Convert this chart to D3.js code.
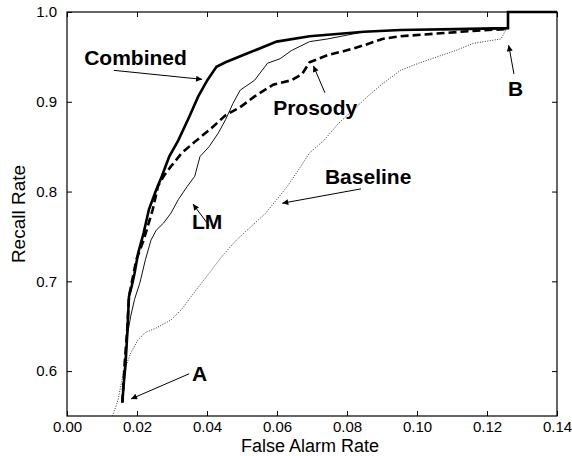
<!DOCTYPE html>
<html>
<head>
<meta charset="utf-8">
<script src="https://cdn.jsdelivr.net/npm/d3@7"></script>
<style>
  body { margin: 0; background: #fff; }
  text { font-family: "Liberation Sans", Arial, sans-serif; }
</style>
</head>
<body>
<div id="chart"></div>
<script>
// chart size
const width = 572;
const height = 456;
const margin = {top: 12, right: 15, bottom: 40, left: 67};

// tick labels
const xTicks = [0.00, 0.02, 0.04, 0.06, 0.08, 0.10, 0.12, 0.14];
const yTicks = [0.6, 0.7, 0.8, 0.9, 1.0];

// curves: [false alarm rate, recall rate]
const combined = [
  [0.0158, 0.565], [0.0163, 0.590], [0.0167, 0.606], [0.0172, 0.640], [0.0177, 0.683],
  [0.0185, 0.695], [0.0193, 0.709], [0.0203, 0.731], [0.0219, 0.754], [0.0234, 0.780],
  [0.0255, 0.802], [0.0271, 0.817], [0.0292, 0.839], [0.0318, 0.857], [0.0349, 0.883],
  [0.0375, 0.906], [0.0401, 0.924], [0.0427, 0.939], [0.0453, 0.944], [0.0516, 0.954],
  [0.0599, 0.967], [0.0693, 0.973], [0.0849, 0.978], [0.0953, 0.980], [0.111, 0.981],
  [0.126, 0.982], [0.126, 1.0], [0.14, 1.0]
];
const lm = [
  [0.0158, 0.565], [0.0165, 0.610], [0.0172, 0.639], [0.0182, 0.661], [0.0193, 0.680],
  [0.0208, 0.698], [0.0224, 0.724], [0.0240, 0.746], [0.0255, 0.757], [0.0276, 0.765],
  [0.0297, 0.776], [0.0318, 0.791], [0.0344, 0.806], [0.0365, 0.817], [0.0380, 0.839],
  [0.0406, 0.850], [0.0432, 0.865], [0.0453, 0.880], [0.0474, 0.898], [0.0495, 0.913],
  [0.0536, 0.924], [0.0573, 0.943], [0.0609, 0.948], [0.0641, 0.957], [0.0693, 0.967],
  [0.0745, 0.970], [0.0797, 0.974], [0.0849, 0.978], [0.0953, 0.980], [0.111, 0.980],
  [0.1255, 0.981]
];
const prosody = [
  [0.0158, 0.565], [0.0165, 0.610], [0.0172, 0.646], [0.0177, 0.683], [0.0198, 0.724],
  [0.0219, 0.746], [0.0245, 0.780], [0.0260, 0.806], [0.0276, 0.817], [0.0297, 0.828],
  [0.0328, 0.843], [0.0370, 0.857], [0.0411, 0.870], [0.0453, 0.885], [0.0495, 0.894],
  [0.0536, 0.906], [0.0589, 0.919], [0.0641, 0.924], [0.0672, 0.931], [0.0693, 0.944],
  [0.0745, 0.952], [0.0797, 0.957], [0.0849, 0.963], [0.0901, 0.970], [0.0953, 0.973],
  [0.1057, 0.976], [0.116, 0.979], [0.1255, 0.981]
];
const baseline = [
  [0.0130, 0.550], [0.0146, 0.568], [0.0161, 0.598], [0.0182, 0.620], [0.0203, 0.635],
  [0.0224, 0.643], [0.0255, 0.648], [0.0297, 0.657], [0.0328, 0.669], [0.0370, 0.691],
  [0.0406, 0.709], [0.0443, 0.728], [0.0484, 0.746], [0.0526, 0.761], [0.0568, 0.776],
  [0.0599, 0.791], [0.0630, 0.806], [0.0661, 0.824], [0.0693, 0.843], [0.0734, 0.857],
  [0.0776, 0.876], [0.0818, 0.891], [0.0859, 0.906], [0.0901, 0.920], [0.0953, 0.935],
  [0.1005, 0.943], [0.1057, 0.950], [0.111, 0.957], [0.116, 0.965], [0.124, 0.970],
  [0.1255, 0.981]
];

// annotations: label, text anchor point, arrow start, arrow tip (data units)
const notes = [
  {label: "Combined", at: [0.0049, 0.941], from: [0.0134, 0.935], to: [0.0386, 0.925]},
  {label: "Prosody", at: [0.0589, 0.885], from: [0.0737, 0.910], to: [0.0704, 0.940]},
  {label: "B", at: [0.1260, 0.906], from: [0.1277, 0.931], to: [0.1262, 0.963]},
  {label: "Baseline", at: [0.0737, 0.808], from: [0.0840, 0.803], to: [0.0615, 0.787]},
  {label: "LM", at: [0.0357, 0.758], from: [0.0406, 0.762], to: [0.0360, 0.786]},
  {label: "A", at: [0.0357, 0.589], from: [0.0349, 0.597], to: [0.0183, 0.569]}
];

const svg = d3.select("#chart")
  .append("svg")
  .attr("width", width)
  .attr("height", height);

const x = d3.scaleLinear().domain([0, 0.14]).range([margin.left, width - margin.right]);
const y = d3.scaleLinear().domain([0.55, 1.0]).range([height - margin.bottom, margin.top]);

// inward ticks on all four sides
const tickLen = 5;
svg.append("g")
  .attr("transform", `translate(0,${y.range()[0]})`)
  .call(d3.axisBottom(x).tickValues(xTicks).tickSizeInner(-tickLen).tickSizeOuter(0).tickPadding(5).tickFormat(d3.format(".2f")))
  .call(g => g.select(".domain").remove())
  .call(g => g.selectAll("text").attr("font-size", 15).attr("font-family", "Liberation Sans, Arial, sans-serif"));

svg.append("g")
  .attr("transform", `translate(0,${y.range()[1]})`)
  .call(d3.axisTop(x).tickValues(xTicks).tickSizeInner(-tickLen).tickSizeOuter(0).tickFormat(""))
  .call(g => g.select(".domain").remove());

svg.append("g")
  .attr("transform", `translate(${x.range()[0]},0)`)
  .call(d3.axisLeft(y).tickValues(yTicks).tickSizeInner(-tickLen).tickSizeOuter(0).tickPadding(10).tickFormat(d3.format(".1f")))
  .call(g => g.select(".domain").remove())
  .call(g => g.selectAll("text").attr("font-size", 15).attr("font-family", "Liberation Sans, Arial, sans-serif"));

svg.append("g")
  .attr("transform", `translate(${x.range()[1]},0)`)
  .call(d3.axisRight(y).tickValues(yTicks).tickSizeInner(-tickLen).tickSizeOuter(0).tickFormat(""))
  .call(g => g.select(".domain").remove());

// frame
svg.append("rect")
  .attr("x", x.range()[0])
  .attr("y", y.range()[1])
  .attr("width", x.range()[1] - x.range()[0])
  .attr("height", y.range()[0] - y.range()[1])
  .attr("fill", "none")
  .attr("stroke", "#000")
  .attr("stroke-width", 1.2);

// axis titles
svg.append("text")
  .attr("x", 310)
  .attr("y", 452)
  .attr("text-anchor", "middle")
  .attr("font-size", 18)
  .text("False Alarm Rate");

svg.append("text")
  .attr("transform", `translate(25,${(y.range()[0] + y.range()[1]) / 2}) rotate(-90)`)
  .attr("text-anchor", "middle")
  .attr("font-size", 19)
  .text("Recall Rate");

// curves
const line = d3.line().x(d => x(d[0])).y(d => y(d[1]));

svg.append("path").datum(baseline)
  .attr("d", line).attr("fill", "none")
  .attr("stroke", "#333").attr("stroke-width", 1).attr("stroke-dasharray", "1,1.5");

svg.append("path").datum(lm)
  .attr("d", line).attr("fill", "none")
  .attr("stroke", "#111").attr("stroke-width", 1);

svg.append("path").datum(prosody)
  .attr("d", line).attr("fill", "none")
  .attr("stroke", "#000").attr("stroke-width", 2.6).attr("stroke-dasharray", "8,4");

svg.append("path").datum(combined)
  .attr("d", line).attr("fill", "none")
  .attr("stroke", "#000").attr("stroke-width", 2.6);

// arrowhead
svg.append("defs").append("marker")
  .attr("id", "head")
  .attr("viewBox", "0 0 10 10")
  .attr("refX", 10).attr("refY", 5)
  .attr("markerWidth", 9).attr("markerHeight", 6)
  .attr("markerUnits", "userSpaceOnUse")
  .attr("orient", "auto")
  .append("path")
  .attr("d", "M0,0L10,5L0,10Z")
  .attr("fill", "#000");

const ann = svg.append("g");
notes.forEach(n => {
  ann.append("line")
    .attr("x1", x(n.from[0])).attr("y1", y(n.from[1]))
    .attr("x2", x(n.to[0])).attr("y2", y(n.to[1]))
    .attr("stroke", "#000").attr("stroke-width", 1)
    .attr("marker-end", "url(#head)");
  ann.append("text")
    .attr("x", x(n.at[0])).attr("y", y(n.at[1]))
    .attr("font-size", 21)
    .attr("font-weight", "bold")
    .text(n.label);
});
</script>
</body>
</html>
